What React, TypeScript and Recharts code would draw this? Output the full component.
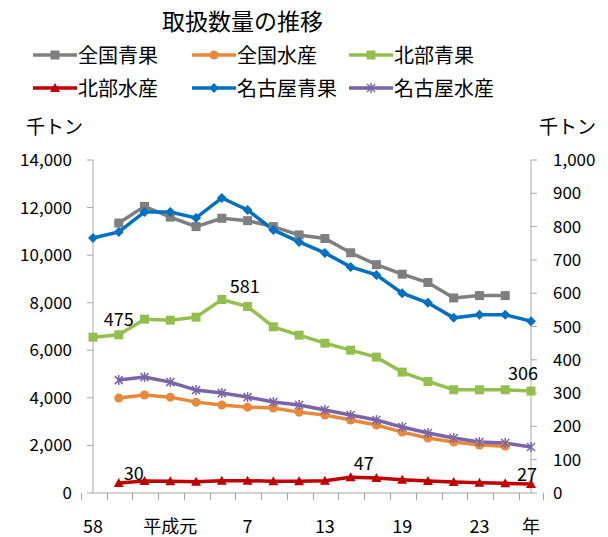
import React from "react";
import { LineChart, Line, XAxis, YAxis, LabelList } from "recharts";

// years: 昭和58 .. 平成25
const categories = ["58", "60", "62", "元", "3", "5", "7", "9", "11", "13", "15", "17", "19", "21", "22", "23", "24", "25"];
const tickLabels = ["58", "", "", "平成元", "", "", "7", "", "", "13", "", "", "19", "", "", "23", "", "年"];

const leftTicks = [0, 2000, 4000, 6000, 8000, 10000, 12000, 14000];
const rightTicks = [0, 100, 200, 300, 400, 500, 600, 700, 800, 900, 1000];

// 千トン
const zenkokuSeika = [null, 11350, 12050, 11600, 11200, 11550, 11450, 11200, 10850, 10700, 10100, 9600, 9200, 8850, 8200, 8300, 8300, null];
const zenkokuSuisan = [null, 3990, 4120, 4030, 3820, 3700, 3610, 3570, 3400, 3280, 3070, 2860, 2560, 2310, 2140, 2020, 1970, null];
const hokubuSeika = [468, 475, 522, 519, 528, 581, 560, 499, 474, 450, 429, 408, 363, 335, 310, 310, 310, 306];
const hokubuSuisan = [null, 30, 36, 35, 34, 37, 37, 35, 35, 37, 47, 45, 40, 36, 33, 31, 29, 27];
const nagoyaSeika = [766, 784, 844, 844, 826, 886, 850, 790, 754, 721, 679, 655, 600, 571, 526, 535, 535, 516];
const nagoyaSuisan = [null, 339, 348, 333, 309, 300, 288, 273, 264, 249, 234, 219, 198, 180, 165, 153, 150, 138];

const data = categories.map((c, i) => ({
  name: c,
  zenkokuSeika: zenkokuSeika[i],
  zenkokuSuisan: zenkokuSuisan[i],
  hokubuSeika: hokubuSeika[i],
  hokubuSuisan: hokubuSuisan[i],
  nagoyaSeika: nagoyaSeika[i],
  nagoyaSuisan: nagoyaSuisan[i],
}));

const FONT = "'Noto Sans CJK JP', 'Noto Sans', sans-serif";
const AXIS = "#a6a6a6";

const W = 608;
const H = 537;
const PLOT_L = 93;
const PLOT_R = 531;
const BAND = (PLOT_R - PLOT_L) / categories.length;

type Shape = "square" | "circle" | "triangle" | "diamond" | "star";

const marker = (shape: Shape, cx: number, cy: number, color: string, key?: string) => {
  switch (shape) {
    case "square":
      return <rect key={key} x={cx - 4.5} y={cy - 4.5} width={9} height={9} fill={color} />;
    case "circle":
      return <circle key={key} cx={cx} cy={cy} r={4.5} fill={color} />;
    case "triangle":
      return <path key={key} d={`M${cx},${cy - 5} L${cx + 5},${cy + 4} L${cx - 5},${cy + 4} Z`} fill={color} />;
    case "diamond":
      return <path key={key} d={`M${cx},${cy - 5} L${cx + 5},${cy} L${cx},${cy + 5} L${cx - 5},${cy} Z`} fill={color} />;
    default:
      return (
        <g key={key} stroke={color} strokeWidth={1.5}>
          <line x1={cx - 4} y1={cy - 4} x2={cx + 4} y2={cy + 4} />
          <line x1={cx - 4} y1={cy + 4} x2={cx + 4} y2={cy - 4} />
          <line x1={cx} y1={cy - 5} x2={cx} y2={cy + 5} />
        </g>
      );
  }
};

const series = [
  { key: "zenkokuSeika", name: "全国青果", color: "#7f7f7f", shape: "square" as Shape, axis: "left" },
  { key: "zenkokuSuisan", name: "全国水産", color: "#e8883a", shape: "circle" as Shape, axis: "left" },
  { key: "hokubuSeika", name: "北部青果", color: "#93bf4f", shape: "square" as Shape, axis: "right" },
  { key: "hokubuSuisan", name: "北部水産", color: "#c00000", shape: "triangle" as Shape, axis: "right" },
  { key: "nagoyaSeika", name: "名古屋青果", color: "#0070c0", shape: "diamond" as Shape, axis: "right" },
  { key: "nagoyaSuisan", name: "名古屋水産", color: "#7b64a8", shape: "star" as Shape, axis: "right" },
];

// data label offsets (index -> [dx, dy])
const labelOffsets: Record<string, Record<number, [number, number]>> = {
  hokubuSeika: { 1: [0, -17], 5: [23, -15], 17: [-8, -19] },
  hokubuSuisan: { 1: [15, -11], 10: [13, -15], 17: [-4, -11] },
};

const XTick = (props: any) => {
  const { x, y, index } = props;
  const last = index === categories.length - 1;
  const lx = Math.round(Number(x) - BAND / 2);
  const rx = Math.round(Number(x) + BAND / 2);
  const ty = Math.round(Number(y));
  return (
    <g className="x-tick">
      <rect x={lx} y={ty} width={1} height={7} fill={AXIS} />
      {last && <rect x={rx} y={ty} width={1} height={7} fill={AXIS} />}
      {tickLabels[index] && (
        <text x={x} y={y + 32} textAnchor="middle" dominantBaseline="central" fontSize={18} fill="#000" fontFamily={FONT}>
          {tickLabels[index]}
        </text>
      )}
    </g>
  );
};

const Legend = () => (
  <div style={{ position: "absolute", left: 0, top: 0, width: W, fontFamily: FONT, fontSize: 20, color: "#000" }}>
    {series.map((s, i) => {
      const col = i % 3;
      const row = Math.floor(i / 3);
      const left = [33, 192, 349][col];
      const top = [42, 75][row];
      return (
        <div key={s.key} style={{ position: "absolute", left, top, display: "flex", alignItems: "center", whiteSpace: "nowrap", lineHeight: "26px" }}>
          <svg width={44} height={14} style={{ marginRight: 1 }}>
            <line x1={0} x2={44} y1={7} y2={7} stroke={s.color} strokeWidth={3.5} />
            {marker(s.shape, 22, 7, s.color)}
          </svg>
          <span>{s.name}</span>
        </div>
      );
    })}
  </div>
);

export default function App() {
  return (
    <div style={{ position: "absolute", left: 0, top: 0, width: W, height: H, background: "#fff", fontFamily: FONT }}>
      <div style={{ position: "absolute", left: 162, top: 5, fontSize: 23, lineHeight: "30px", color: "#000" }}>取扱数量の推移</div>
      <Legend />
      <div style={{ position: "absolute", left: 26, top: 113, fontSize: 19, lineHeight: "26px" }}>千トン</div>
      <div style={{ position: "absolute", left: 539, top: 113, fontSize: 19, lineHeight: "26px" }}>千トン</div>
      <div style={{ position: "absolute", left: 0, top: 0 }}>
        <LineChart width={W} height={H} data={data} margin={{ top: 160, right: 7, bottom: 4, left: 13 }} style={{ fontFamily: FONT }}>
          <XAxis
            dataKey="name"
            interval={0}
            tickLine={false}
            tickSize={0}
            tickMargin={0}
            height={40}
            axisLine={{ stroke: AXIS }}
            tick={(p: any) => <XTick {...p} />}
          />
          <YAxis
            yAxisId="left"
            orientation="left"
            width={80}
            domain={[0, 14000]}
            ticks={leftTicks}
            tickFormatter={(v: number) => v.toLocaleString("en-US")}
            axisLine={{ stroke: AXIS }}
            tickLine={{ stroke: AXIS }}
            tickSize={6}
            tickMargin={15}
            tick={{ fill: "#000", fontSize: 17 }}
          />
          <YAxis
            yAxisId="right"
            orientation="right"
            width={70}
            domain={[0, 1000]}
            ticks={rightTicks}
            tickFormatter={(v: number) => v.toLocaleString("en-US")}
            axisLine={{ stroke: AXIS }}
            tickLine={{ stroke: AXIS }}
            tickSize={6}
            tickMargin={16}
            tick={{ fill: "#000", fontSize: 17, textAnchor: "start" }}
          />
          {series.map((s) => (
            <Line
              key={s.key}
              yAxisId={s.axis}
              dataKey={s.key}
              name={s.name}
              stroke={s.color}
              strokeWidth={3.5}
              isAnimationActive={false}
              dot={(p: any) =>
                p.cx == null || p.cy == null || p.value == null ? <g key={`e-${s.key}-${p.index}`} /> : marker(s.shape, p.cx, p.cy, s.color, `d-${s.key}-${p.index}`)
              }
              activeDot={false}
            >
              {labelOffsets[s.key] && (
                <LabelList
                  dataKey={s.key}
                  content={(p: any) => {
                    const off = labelOffsets[s.key][p.index];
                    if (!off || p.value == null) return null;
                    return (
                      <text x={p.x + off[0]} y={p.y + off[1]} textAnchor="middle" dominantBaseline="central" fontSize={18} fill="#000" fontFamily={FONT}>
                        {p.value}
                      </text>
                    );
                  }}
                />
              )}
            </Line>
          ))}
        </LineChart>
      </div>
    </div>
  );
}
